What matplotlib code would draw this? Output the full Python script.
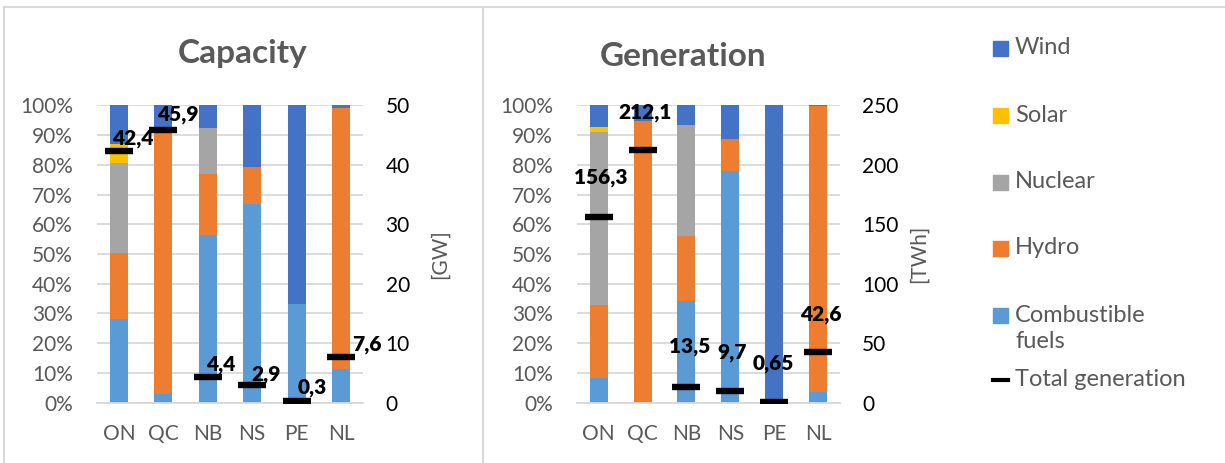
import matplotlib
matplotlib.use("Agg")
import matplotlib.pyplot as plt
from matplotlib.patches import Rectangle
from matplotlib.lines import Line2D
from matplotlib.ticker import PercentFormatter
import numpy as np

plt.rcParams['font.family'] = ['Lato', 'DejaVu Sans']

provinces = ["ON", "QC", "NB", "NS", "PE", "NL"]
sources = ["Combustible fuels", "Hydro", "Nuclear", "Solar", "Wind"]

# shares in % (bottom to top), wind fills up to 100
cap_fuels = [28.0, 2.9, 56.3, 66.8, 33.2, 11.4]
cap_hydro = [22.2, 88.6, 20.7, 12.6, 0.0, 87.8]
cap_nuclear = [30.5, 0.0, 15.4, 0.0, 0.0, 0.0]
cap_solar = [6.3, 0.0, 0.0, 0.0, 0.0, 0.0]
cap_total = [42.4, 45.9, 4.4, 2.9, 0.3, 7.6]  # GW
cap_labels = ["42,4", "45,9", "4,4", "2,9", "0,3", "7,6"]

gen_fuels = [8.2, 0.4, 34.1, 78.0, 0.0, 3.5]
gen_hydro = [24.6, 94.4, 22.1, 10.7, 0.0, 96.1]
gen_nuclear = [58.1, 0.0, 37.3, 0.0, 0.0, 0.0]
gen_solar = [1.7, 0.0, 0.0, 0.0, 0.0, 0.0]
gen_total = [156.3, 212.1, 13.5, 9.7, 0.65, 42.6]  # TWh
gen_labels = ["156,3", "212,1", "13,5", "9,7", "0,65", "42,6"]

colors = {"Wind": "#4472C4", "Solar": "#FFC000", "Nuclear": "#A5A5A5",
          "Hydro": "#ED7D31", "Combustible fuels": "#5B9BD5"}
grey_txt = "#595959"
grid_col = "#D9D9D9"

W, H = 1225, 463
fig = plt.figure(figsize=(W / 100, H / 100), dpi=100)


def px_box(x0, x1, ytop, ybot):
    return [x0 / W, 1 - ybot / H, (x1 - x0) / W, (ybot - ytop) / H]


def panel(rect, title, title_xy, fuels, hydro, nuclear, solar, totals, labels,
          tmax, unit, offsets, unit_x):
    ax = fig.add_axes(rect)
    x = np.arange(len(provinces))
    fuels, hydro, nuclear, solar = map(np.array, (fuels, hydro, nuclear, solar))
    wind = 100 - fuels - hydro - nuclear - solar
    bottom = np.zeros(len(x))
    for name, vals in zip(sources, [fuels, hydro, nuclear, solar, wind]):
        ax.bar(x, vals, 0.41, bottom=bottom, color=colors[name], zorder=2)
        bottom += vals
    ax.set_ylim(0, 100)
    ax.set_xlim(-0.5, len(x) - 0.5)
    ax.set_yticks(np.arange(0, 101, 10))
    ax.yaxis.set_major_formatter(PercentFormatter(decimals=0))
    ax.set_xticks(x)
    ax.set_xticklabels(provinces)
    ax.grid(axis='y', color=grid_col, lw=1.3, zorder=0)
    for s in ["top", "left", "right"]:
        ax.spines[s].set_visible(False)
    ax.spines["bottom"].set_color(grid_col)
    ax.spines["bottom"].set_linewidth(1.3)
    ax.tick_params(axis='both', length=0, labelsize=15, colors=grey_txt)
    ax.tick_params(axis='y', pad=17)
    ax.tick_params(axis='x', pad=15)

    ax2 = ax.twinx()
    ax2.set_ylim(0, tmax)
    ax2.set_yticks(np.linspace(0, tmax, 6))
    ax2.yaxis.set_major_formatter(lambda v, p: f"{v:g}")
    for s in ax2.spines.values():
        s.set_visible(False)
    ax2.tick_params(axis='y', length=0, labelsize=15, colors="black", pad=16)
    ax2.plot(x, totals, linestyle='none', marker='_', ms=19.5, mew=4.6,
             color='black', zorder=5)
    for xi, t, lab, off in zip(x, totals, labels, offsets):
        ax2.annotate(lab, (xi, t), xytext=off, textcoords='offset pixels',
                     ha='center', va='center', fontsize=15, fontweight='heavy',
                     color='black')
    ax2.set_ylabel(unit, fontsize=15, color=grey_txt, rotation=90)
    ax2.yaxis.set_label_coords(unit_x, 0.5)
    fig.text(title_xy[0] / W, 1 - title_xy[1] / H, title, ha='center',
             va='center', fontsize=24, fontweight='bold', color=grey_txt)


cap_offsets = [(14, 12), (14, 15), (13, 12), (14, 11), (16, 13), (26, 13)]
gen_offsets = [(2, 39), (3, 38), (3, 40), (2, 39), (-1, 38), (3, 38)]

panel(px_box(96.7, 363.3, 105.3, 402.7), "Capacity", (243, 53),
      cap_fuels, cap_hydro, cap_nuclear, cap_solar, cap_total, cap_labels,
      50, "[GW]", cap_offsets, 1.25)
panel(px_box(576.7, 840, 105.3, 402.7), "Generation", (683, 57),
      gen_fuels, gen_hydro, gen_nuclear, gen_solar, gen_total, gen_labels,
      250, "[TWh]", gen_offsets, 1.26)

# chart frames
for seg in [((4, W), (7, 7)), ((4, 4), (7, H)), ((483, 483), (7, H))]:
    fig.add_artist(Line2D([p / W for p in seg[0]], [1 - p / H for p in seg[1]],
                          color=grid_col, lw=1.5))

# legend
leg_names = ["Wind", "Solar", "Nuclear", "Hydro", "Combustible fuels"]
leg_text = ["Wind", "Solar", "Nuclear", "Hydro", "Combustible\nfuels"]
leg_y = [48, 115, 182, 248, 315]
for name, txt, y in zip(leg_names, leg_text, leg_y):
    fig.add_artist(Rectangle((993 / W, 1 - (y + 7.5) / H), 15 / W, 15 / H,
                             color=colors[name], transform=fig.transFigure))
    if '\n' in txt:
        first, second = txt.split('\n')
        fig.text(1015 / W, 1 - y / H, first, ha='left', va='center',
                 fontsize=17, color=grey_txt)
        fig.text(1015 / W, 1 - (y + 27) / H, second, ha='left', va='center',
                 fontsize=17, color=grey_txt)
    else:
        fig.text(1015 / W, 1 - y / H, txt, ha='left', va='center',
                 fontsize=17, color=grey_txt)
fig.add_artist(Line2D([993 / W, 1008 / W], [1 - 380 / H] * 2, color='black', lw=3))
fig.text(1015 / W, 1 - 380 / H, "Total generation", ha='left', va='center',
         fontsize=17, color=grey_txt)

fig.savefig("out.png", dpi=100, facecolor='white')
